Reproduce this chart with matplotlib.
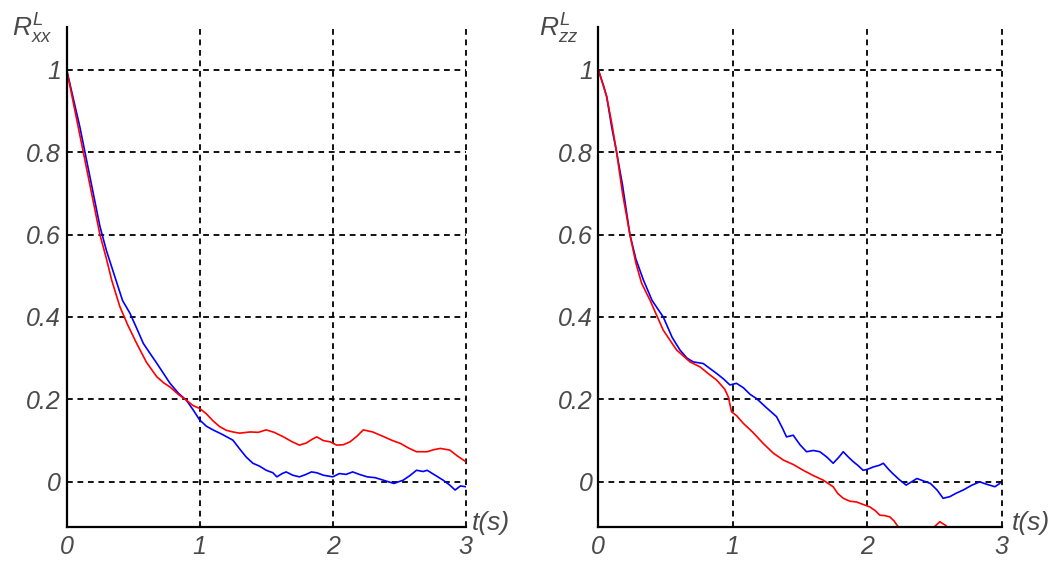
import numpy as np
import matplotlib
matplotlib.use("Agg")
import matplotlib.pyplot as plt

plt.rcParams['font.family'] = ['Liberation Sans', 'DejaVu Sans']
plt.rcParams['mathtext.fontset'] = 'custom'
plt.rcParams['mathtext.it'] = 'Liberation Sans:italic'
plt.rcParams['mathtext.rm'] = 'Liberation Sans'

# R_xx, blue curve
t_xx_blue = [0, 0.05, 0.1, 0.15, 0.2, 0.25, 0.3, 0.36, 0.42, 0.476, 0.53, 0.576, 0.63, 0.677,
             0.73, 0.777, 0.84, 0.9, 0.95, 1.0, 1.05, 1.1, 1.17, 1.25, 1.3, 1.35, 1.4, 1.45,
             1.5, 1.55, 1.58, 1.62, 1.65, 1.7, 1.75, 1.8, 1.84, 1.88, 1.93, 2.0, 2.05, 2.1,
             2.15, 2.2, 2.26, 2.32, 2.38, 2.46, 2.53, 2.58, 2.63, 2.68, 2.71, 2.77, 2.83,
             2.88, 2.92, 2.96, 3.0]
r_xx_blue = [1.0, 0.93, 0.86, 0.78, 0.70, 0.62, 0.56, 0.50, 0.44, 0.409, 0.37, 0.336, 0.31, 0.288,
             0.262, 0.239, 0.215, 0.198, 0.175, 0.15, 0.135, 0.126, 0.115, 0.101, 0.08, 0.06, 0.045, 0.038,
             0.028, 0.022, 0.012, 0.02, 0.024, 0.016, 0.012, 0.018, 0.024, 0.022, 0.016, 0.012, 0.02, 0.018,
             0.024, 0.018, 0.012, 0.01, 0.004, -0.004, 0.004, 0.015, 0.028, 0.025, 0.028, 0.016, 0.004,
             -0.008, -0.02, -0.01, -0.012]

# R_xx, red curve
t_xx_red = [0, 0.05, 0.1, 0.15, 0.2, 0.25, 0.3, 0.338, 0.4, 0.46, 0.526, 0.6, 0.677, 0.73, 0.777,
            0.84, 0.9, 0.95, 1.0, 1.05, 1.1, 1.15, 1.2, 1.25, 1.3, 1.38, 1.44, 1.5, 1.56, 1.63,
            1.69, 1.75, 1.8, 1.85, 1.88, 1.93, 1.98, 2.03, 2.08, 2.13, 2.18, 2.23, 2.3, 2.38,
            2.45, 2.51, 2.57, 2.63, 2.71, 2.76, 2.81, 2.88, 2.94, 3.0]
r_xx_red = [1.0, 0.92, 0.84, 0.76, 0.68, 0.60, 0.54, 0.49, 0.425, 0.38, 0.336, 0.29, 0.255, 0.24, 0.23,
            0.212, 0.198, 0.185, 0.178, 0.165, 0.148, 0.134, 0.125, 0.121, 0.118, 0.121, 0.12, 0.126, 0.12, 0.109,
            0.098, 0.089, 0.094, 0.104, 0.109, 0.10, 0.097, 0.089, 0.09, 0.097, 0.11, 0.126, 0.121, 0.11,
            0.10, 0.093, 0.082, 0.073, 0.073, 0.078, 0.081, 0.077, 0.062, 0.049]

# R_zz, blue curve
t_zz_blue = [0, 0.04, 0.062, 0.1, 0.136, 0.18, 0.235, 0.28, 0.335, 0.4, 0.483, 0.55, 0.607, 0.66,
             0.706, 0.781, 0.83, 0.88, 0.93, 0.979, 1.028, 1.08, 1.13, 1.177, 1.25, 1.326, 1.37,
             1.4, 1.45, 1.5, 1.549, 1.6, 1.648, 1.7, 1.747, 1.79, 1.822, 1.86, 1.896, 1.93, 1.97,
             2.0, 2.045, 2.09, 2.12, 2.16, 2.19, 2.24, 2.29, 2.33, 2.37, 2.42, 2.47, 2.52, 2.565,
             2.615, 2.66, 2.714, 2.78, 2.838, 2.87, 2.91, 2.95, 2.986]
r_zz_blue = [1.0, 0.96, 0.935, 0.86, 0.80, 0.72, 0.60, 0.54, 0.49, 0.44, 0.40, 0.35, 0.32, 0.30,
             0.291, 0.287, 0.275, 0.263, 0.25, 0.235, 0.239, 0.228, 0.212, 0.202, 0.18, 0.158, 0.13,
             0.109, 0.113, 0.09, 0.073, 0.076, 0.073, 0.06, 0.045, 0.06, 0.073, 0.06, 0.049, 0.04, 0.028,
             0.03, 0.036, 0.04, 0.045, 0.03, 0.02, 0.005, -0.008, 0.0, 0.008, 0.002, -0.004, -0.02, -0.04,
             -0.036, -0.028, -0.02, -0.008, 0.0, -0.004, -0.008, -0.012, -0.004]

# R_zz, red curve (runs below the axis after t~2.2)
t_zz_red = [0, 0.062, 0.1, 0.136, 0.18, 0.235, 0.28, 0.322, 0.384, 0.483, 0.582, 0.682, 0.756, 0.82,
            0.88, 0.94, 0.967, 0.991, 1.03, 1.078, 1.15, 1.227, 1.3, 1.375, 1.45, 1.524, 1.6, 1.673,
            1.71, 1.747, 1.78, 1.822, 1.87, 1.921, 1.97, 2.02, 2.06, 2.094, 2.13, 2.168, 2.2, 2.23,
            2.3, 2.4, 2.48, 2.54, 2.58, 2.65, 2.8, 3.0]
r_zz_red = [1.0, 0.935, 0.87, 0.80, 0.70, 0.60, 0.53, 0.482, 0.441, 0.368, 0.32, 0.291, 0.279, 0.262,
            0.247, 0.225, 0.206, 0.17, 0.16, 0.142, 0.12, 0.093, 0.07, 0.053, 0.042, 0.028, 0.015, 0.004,
            -0.004, -0.012, -0.028, -0.04, -0.047, -0.049, -0.055, -0.061, -0.07, -0.081, -0.082, -0.085, -0.095, -0.109,
            -0.125, -0.13, -0.115, -0.097, -0.105, -0.125, -0.14, -0.15]

x_ticks = [0, 1, 2, 3]
y_ticks = [0, 0.2, 0.4, 0.6, 0.8, 1]
y_tick_labels = ['0', '0.2', '0.4', '0.6', '0.8', '1']

fig = plt.figure(figsize=(10.53, 5.61), dpi=100)
ax1 = fig.add_axes([0.0633, 0.0611, 0.379, 0.891])
ax2 = fig.add_axes([0.5682, 0.0611, 0.383, 0.891])

panels = [(ax1, t_xx_blue, r_xx_blue, t_xx_red, r_xx_red, r'$R^{L}_{xx}$', 0.0111, 0.448),
          (ax2, t_zz_blue, r_zz_blue, t_zz_red, r_zz_red, r'$R^{L}_{zz}$', 0.512, 0.961)]

for ax, tb, rb, tr, rr, lab, lx, tx in panels:
    ax.plot(tb, rb, color='#0000ff', lw=1.2)
    ax.plot(tr, rr, color='#ff0000', lw=1.2)
    ax.set_xlim(0, 3)
    ax.set_ylim(-0.109, 1.104)
    ax.set_xticks(x_ticks)
    ax.set_yticks(y_ticks)
    ax.set_yticklabels(y_tick_labels)
    ax.grid(True, color='black', linestyle=(0, (3.2, 2.6)), lw=1.3)
    for gl in ax.get_xgridlines():
        gl.set_clip_on(False)
    for s in ['top', 'right']:
        ax.spines[s].set_visible(False)
    for s in ['left', 'bottom']:
        ax.spines[s].set_linewidth(1.6)
    ax.tick_params(axis='y', length=0, pad=4, labelsize=18, labelcolor='#4a4a4a')
    ax.tick_params(axis='x', length=0, pad=6, labelsize=18, labelcolor='#4a4a4a')
    for lbl in ax.get_xticklabels() + ax.get_yticklabels():
        lbl.set_fontstyle('italic')
    fig.text(lx, 0.934, lab, fontsize=19, color='#4a4a4a', va='baseline')
    fig.text(tx, 0.055, 't(s)', fontsize=19, color='#4a4a4a', style='italic', va='baseline')

plt.savefig('out.png', dpi=100)
